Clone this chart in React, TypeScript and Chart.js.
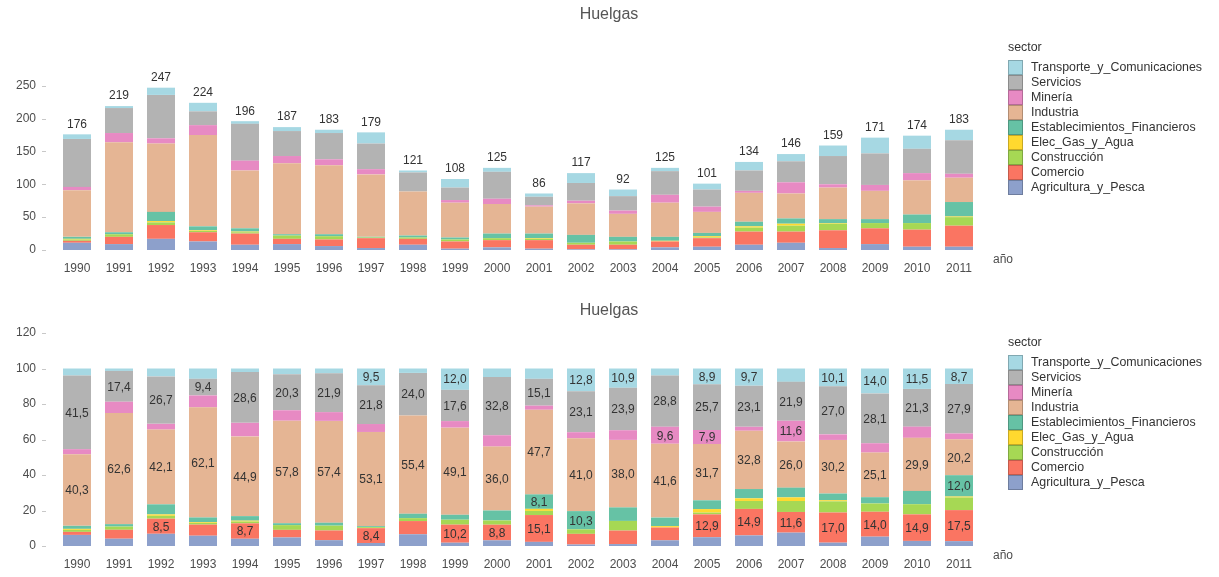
import React, { useEffect, useRef } from 'react';
import { Chart, registerables } from 'chart.js';
Chart.register(...registerables);

const FONT = '"Liberation Sans", Arial, sans-serif';

const years = ['1990', '1991', '1992', '1993', '1994', '1995', '1996', '1997', '1998', '1999', '2000', '2001', '2002', '2003', '2004', '2005', '2006', '2007', '2008', '2009', '2010', '2011'];
const totals = [176, 219, 247, 224, 196, 187, 183, 179, 121, 108, 125, 86, 117, 92, 125, 101, 134, 146, 159, 171, 174, 183];

const agricultura = [11, 9, 17, 13, 8, 9, 6, 3, 8, 2, 4, 2, 1, 1, 4, 5, 8, 11, 3, 9, 5, 5];
const comercio = [3, 11, 21, 14, 17, 8, 10, 15, 9, 11, 11, 13, 7, 7, 9, 13, 20, 17, 27, 24, 26, 32];
const construccion = [2, 4, 4, 2, 2, 5, 5, 1, 2, 3, 3, 2, 3, 5, 0, 1, 6, 9, 10, 8, 10, 13];
const elecGasAgua = [1, 0, 2, 1, 1, 0, 0, 0, 0, 0, 0, 1, 0, 0, 1, 2, 2, 3, 1, 0, 0, 1];
const financieros = [3, 3, 14, 6, 5, 2, 3, 1, 3, 3, 7, 7, 12, 7, 6, 5, 7, 8, 6, 6, 13, 22];
const industria = [71, 137, 104, 139, 88, 108, 105, 95, 67, 53, 45, 41, 48, 35, 52, 32, 44, 38, 48, 43, 52, 37];
const mineria = [5, 14, 8, 15, 15, 11, 9, 8, 0, 4, 8, 2, 4, 5, 12, 8, 3, 17, 5, 9, 11, 6];
const servicios = [73, 38, 66, 21, 56, 38, 40, 39, 29, 19, 41, 13, 27, 22, 36, 26, 31, 32, 43, 48, 37, 51];
const transporte = [7, 3, 11, 13, 4, 6, 5, 17, 3, 13, 6, 5, 15, 10, 5, 9, 13, 11, 16, 24, 20, 16];

const sectorNames = ['Agricultura_y_Pesca', 'Comercio', 'Construcción', 'Elec_Gas_y_Agua', 'Establecimientos_Financieros', 'Industria', 'Minería', 'Servicios', 'Transporte_y_Comunicaciones'];
const sectorData = [agricultura, comercio, construccion, elecGasAgua, financieros, industria, mineria, servicios, transporte];
const sectorColors = ['#8DA0CB', '#FA7562', '#A6D854', '#FFD92F', '#66C2A5', '#E5B594', '#E78AC3', '#B3B3B3', '#A6D8E3'];

const TEXT = '#4d4d4d';

type Cfg = {
  mode: 'count' | 'pct';
  top: number;
  height: number;
  areaTop: number;
  xAxisHeight: number;
  max: number;
  step: number;
  titleY: number;
  anoY: number;
};

function makePlugin(cfg: Cfg) {
  return {
    id: 'customLabels',
    afterDraw(chart: any) {
      const ctx = chart.ctx;
      const xs = chart.scales.x;
      const ys = chart.scales.y;
      ctx.save();
      ctx.strokeStyle = '#c8c8c8';
      ctx.lineWidth = 1;
      ys.ticks.forEach((t: any) => {
        const y = Math.round(ys.getPixelForValue(t.value)) + 0.5;
        ctx.beginPath();
        ctx.moveTo(42, y);
        ctx.lineTo(46, y);
        ctx.stroke();
      });
      ctx.fillStyle = '#333';
      ctx.font = `12px ${FONT}`;
      ctx.textAlign = 'center';
      if (cfg.mode === 'count') {
        ctx.textBaseline = 'bottom';
        totals.forEach((tot, i) => {
          const x = xs.getPixelForValue(i);
          const y = ys.getPixelForValue(tot);
          ctx.fillText(String(tot), x, y - 4);
        });
      } else {
        ctx.textBaseline = 'middle';
        chart.data.datasets.forEach((ds: any, di: number) => {
          const meta = chart.getDatasetMeta(di);
          meta.data.forEach((el: any, i: number) => {
            const v = ds.data[i];
            if (v >= 7.75) {
              const p = el.getProps(['x', 'y', 'base'], true);
              ctx.fillText(v.toFixed(1).replace('.', ','), p.x, (p.y + p.base) / 2 + 1);
            }
          });
        });
      }
      ctx.fillStyle = '#555';
      ctx.font = `16px ${FONT}`;
      ctx.textAlign = 'center';
      ctx.textBaseline = 'middle';
      ctx.fillText('Huelgas', 609, cfg.titleY);
      ctx.font = `12px ${FONT}`;
      ctx.fillStyle = TEXT;
      ctx.textAlign = 'left';
      ctx.fillText('año', 993, cfg.anoY);
      ctx.restore();
    },
  };
}

function StackedChart({ cfg }: { cfg: Cfg }) {
  const ref = useRef<HTMLCanvasElement>(null);
  useEffect(() => {
    if (!ref.current) return;
    const datasets = sectorNames.map((name, si) => ({
      label: name,
      data: sectorData[si].map((v, i) => (cfg.mode === 'count' ? v : (v / totals[i]) * 100)),
      backgroundColor: sectorColors[si],
      borderWidth: 0,
      barPercentage: 28 / 42,
      categoryPercentage: 1,
    }));
    const chart = new Chart(ref.current, {
      type: 'bar',
      data: { labels: years, datasets },
      options: {
        animation: false,
        responsive: false,
        maintainAspectRatio: false,
        layout: { padding: { top: cfg.areaTop, right: 239, left: 0, bottom: 0 } },
        plugins: { legend: { display: false }, tooltip: { enabled: false }, title: { display: false } },
        scales: {
          x: {
            stacked: true,
            grid: { display: false },
            border: { display: false },
            ticks: { color: TEXT, font: { family: FONT, size: 12 }, padding: 3, maxRotation: 0, autoSkip: false },
            afterFit: (s: any) => { s.height = cfg.xAxisHeight; },
          },
          y: {
            stacked: true,
            min: 0,
            max: cfg.max,
            grid: { display: false, drawTicks: false },
            border: { display: false },
            ticks: { stepSize: cfg.step, color: TEXT, font: { family: FONT, size: 12 }, padding: 20 },
            afterBuildTicks: (s: any) => { s.ticks = s.ticks.filter((t: any) => t.value % cfg.step === 0 && t.value <= (cfg.mode === 'count' ? 250 : 120)); },
            afterFit: (s: any) => { s.width = 56; },
          },
        },
      } as any,
      plugins: [makePlugin(cfg)],
    });
    return () => chart.destroy();
  }, []);
  return (
    <canvas
      ref={ref}
      width={1219}
      height={cfg.height}
      style={{ position: 'absolute', left: 0, top: cfg.top, width: 1219, height: cfg.height, display: 'block' }}
    />
  );
}

function Legend({ titleTop, keysTop }: { titleTop: number; keysTop: number }) {
  const order = [8, 7, 6, 5, 4, 3, 2, 1, 0];
  return (
    <div style={{ position: 'absolute', left: 0, top: 0, fontFamily: FONT, fontSize: 12.4, color: '#333' }}>
      <div style={{ position: 'absolute', left: 1008, top: titleTop, lineHeight: '14px', whiteSpace: 'nowrap' }}>sector</div>
      {order.map((si, k) => (
        <React.Fragment key={si}>
          <div
            style={{
              position: 'absolute',
              left: 1008,
              top: keysTop + 15 * k,
              width: 15,
              height: 15,
              boxSizing: 'border-box',
              background: sectorColors[si],
              border: '1px solid rgba(0,0,0,0.22)',
            }}
          />
          <div style={{ position: 'absolute', left: 1031, top: keysTop + 15 * k, height: 15, lineHeight: '15px', whiteSpace: 'nowrap' }}>
            {sectorNames[si]}
          </div>
        </React.Fragment>
      ))}
    </div>
  );
}

export default function App() {
  const topCfg: Cfg = { mode: 'count', top: 0, height: 290, areaTop: 66, xAxisHeight: 40, max: 280, step: 50, titleY: 15, anoY: 260 };
  const botCfg: Cfg = { mode: 'pct', top: 290, height: 287, areaTop: 43, xAxisHeight: 31, max: 120, step: 20, titleY: 21, anoY: 266 };
  return (
    <div style={{ position: 'absolute', left: 0, top: 0, width: 1219, height: 577, background: '#fff', overflow: 'hidden' }}>
      <StackedChart cfg={topCfg} />
      <StackedChart cfg={botCfg} />
      <Legend titleTop={40} keysTop={60} />
      <Legend titleTop={335} keysTop={355} />
    </div>
  );
}
